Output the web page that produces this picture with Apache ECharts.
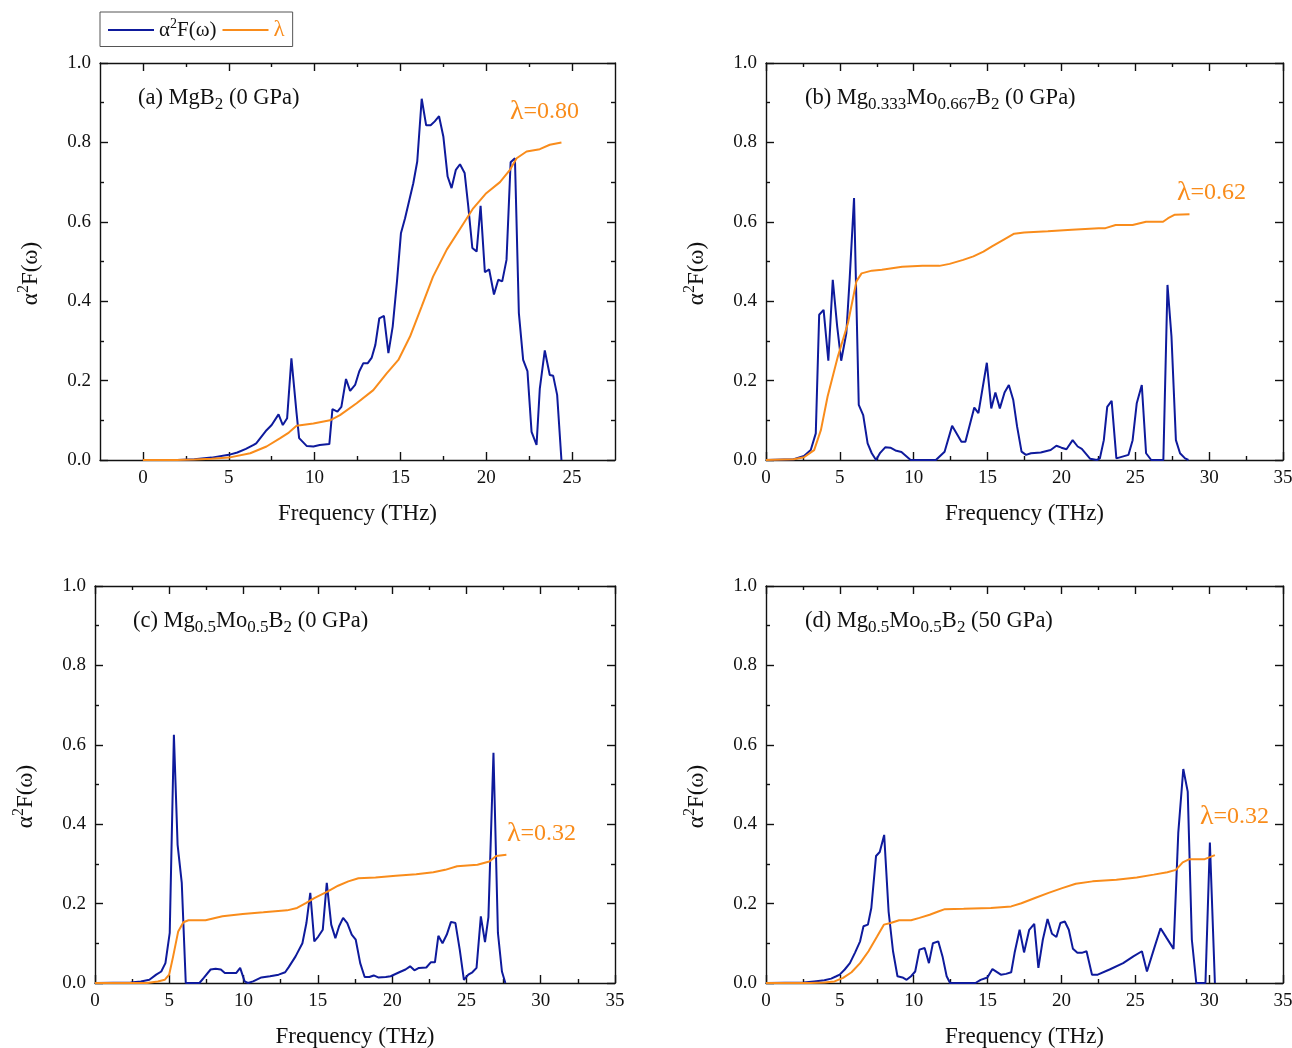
<!DOCTYPE html>
<html>
<head>
<meta charset="utf-8">
<title>Eliashberg spectral function</title>
<script src="https://cdn.jsdelivr.net/npm/echarts@6/dist/echarts.min.js"></script>
<style>
html, body { margin: 0; padding: 0; background: #fff; }
#main { width: 1292px; height: 1048px; }
</style>
</head>
<body>
<div id="main"></div>
<script>
// tick values
var xTicksA = [0, 5, 10, 15, 20, 25];
var xMinorA = [2.5, 7.5, 12.5, 17.5, 22.5];
var xTicks = [0, 5, 10, 15, 20, 25, 30, 35];
var xMinor = [2.5, 7.5, 12.5, 17.5, 22.5, 27.5, 32.5];
var yTicks = [0, 0.2, 0.4, 0.6, 0.8, 1.0];
var yMinor = [0.1, 0.3, 0.5, 0.7, 0.9];

// (a) MgB2, 0 GPa
var aFreq = [0, 2, 3, 4, 5, 5.5, 6, 6.45, 6.6, 7.2, 7.5, 7.9, 8.15, 8.4, 8.65, 8.95, 9.1, 9.55, 9.93, 10.3, 10.86, 11.04, 11.33, 11.56, 11.83, 12.07, 12.36, 12.6, 12.84, 13.1, 13.33, 13.54, 13.77, 14.04, 14.3, 14.55, 14.8, 15.03, 15.27, 15.52, 15.75, 15.98, 16.24, 16.5, 16.76, 17, 17.25, 17.5, 17.75, 17.98, 18.23, 18.47, 18.74, 18.95, 19.19, 19.44, 19.67, 19.92, 20.17, 20.45, 20.7, 20.93, 21.18, 21.42, 21.67, 21.9, 22.15, 22.4, 22.64, 22.93, 23.12, 23.41, 23.7, 23.9, 24.13, 24.38];
var aA2F = [0, 0, 0.002, 0.006, 0.013, 0.019, 0.028, 0.038, 0.042, 0.075, 0.088, 0.115, 0.088, 0.105, 0.256, 0.118, 0.055, 0.035, 0.034, 0.038, 0.04, 0.128, 0.122, 0.134, 0.204, 0.174, 0.189, 0.223, 0.244, 0.244, 0.258, 0.29, 0.357, 0.363, 0.269, 0.336, 0.45, 0.571, 0.609, 0.655, 0.697, 0.752, 0.91, 0.843, 0.843, 0.853, 0.866, 0.815, 0.714, 0.685, 0.731, 0.745, 0.723, 0.64, 0.534, 0.525, 0.64, 0.473, 0.48, 0.417, 0.454, 0.45, 0.504, 0.75, 0.76, 0.37, 0.252, 0.224, 0.071, 0.038, 0.18, 0.276, 0.214, 0.212, 0.164, 0];
var aLamFreq = [0, 2, 3, 4, 5, 6.25, 7.2, 8, 8.5, 8.95, 9.93, 10.9, 11.48, 12.45, 13.42, 14.2, 14.88, 15.56, 16.24, 16.9, 17.7, 18.47, 19.24, 20, 20.8, 21.38, 21.77, 22.35, 23.12, 23.7, 24.38];
var aLam = [0, 0, 0.001, 0.003, 0.006, 0.017, 0.034, 0.055, 0.069, 0.086, 0.092, 0.1, 0.113, 0.143, 0.176, 0.218, 0.252, 0.311, 0.387, 0.462, 0.53, 0.582, 0.634, 0.672, 0.7, 0.731, 0.76, 0.777, 0.783, 0.794, 0.8];

// (b) Mg0.333Mo0.667B2, 0 GPa
var bFreq = [0, 1.88, 2.57, 3.03, 3.37, 3.6, 3.9, 4.22, 4.52, 4.82, 5.09, 5.44, 5.67, 5.96, 6.28, 6.58, 6.88, 7.16, 7.45, 7.73, 8.07, 8.42, 8.76, 9.17, 9.79, 11.5, 12.09, 12.6, 13.23, 13.5, 14.1, 14.38, 14.95, 15.25, 15.53, 15.83, 16.15, 16.44, 16.74, 17, 17.3, 17.6, 17.94, 18.6, 19.27, 19.66, 20, 20.34, 20.76, 21.1, 21.38, 21.95, 22.4, 22.6, 22.87, 23.1, 23.4, 23.72, 24.54, 24.82, 25.1, 25.44, 25.73, 26.08, 26.9, 27.18, 27.45, 27.75, 28.03, 28.37, 28.6];
var bA2F = [0, 0.002, 0.01, 0.025, 0.067, 0.366, 0.378, 0.25, 0.454, 0.336, 0.25, 0.32, 0.46, 0.66, 0.139, 0.113, 0.042, 0.017, 0, 0.018, 0.032, 0.031, 0.024, 0.02, 0, 0, 0.021, 0.086, 0.046, 0.046, 0.132, 0.118, 0.245, 0.13, 0.17, 0.13, 0.17, 0.189, 0.151, 0.084, 0.021, 0.013, 0.017, 0.019, 0.025, 0.036, 0.031, 0.027, 0.05, 0.034, 0.028, 0.003, 0, 0.004, 0.05, 0.134, 0.149, 0.004, 0.013, 0.05, 0.143, 0.189, 0.017, 0, 0, 0.441, 0.311, 0.05, 0.017, 0.004, 0];
var bLamFreq = [0, 1.88, 2.57, 3.26, 3.72, 4.17, 4.86, 5.55, 6.12, 6.47, 7.16, 7.84, 9.22, 10.6, 11.74, 12.43, 13.35, 14.04, 14.72, 15.3, 16.1, 16.8, 17.48, 19.08, 20.7, 22.52, 22.98, 23.67, 24.82, 25.73, 26.88, 27.22, 27.68, 28.67];
var bLam = [0, 0.002, 0.007, 0.025, 0.076, 0.16, 0.26, 0.345, 0.45, 0.47, 0.477, 0.479, 0.487, 0.489, 0.489, 0.494, 0.504, 0.513, 0.525, 0.538, 0.555, 0.57, 0.573, 0.576, 0.58, 0.584, 0.584, 0.592, 0.592, 0.6, 0.6, 0.609, 0.618, 0.619];

// (c) Mg0.5Mo0.5B2, 0 GPa
var cFreq = [0, 2.4, 3.09, 3.66, 4.12, 4.46, 4.74, 5.03, 5.31, 5.56, 5.84, 6.11, 7.03, 7.32, 7.78, 8.12, 8.47, 8.74, 9.5, 9.77, 10.07, 10.3, 10.64, 11.2, 11.78, 12.36, 12.8, 13.04, 13.5, 13.96, 14.23, 14.49, 14.76, 15.03, 15.33, 15.6, 15.9, 16.18, 16.43, 16.7, 16.98, 17.28, 17.55, 17.85, 18.15, 18.47, 18.76, 19.06, 19.57, 19.9, 20.48, 20.9, 21.21, 21.5, 21.8, 22.3, 22.6, 22.88, 23.11, 23.39, 23.68, 23.96, 24.26, 24.55, 24.83, 25.13, 25.4, 25.68, 25.97, 26.25, 26.48, 26.82, 27.12, 27.39, 27.62];
var cA2F = [0, 0.001, 0.004, 0.008, 0.021, 0.029, 0.05, 0.126, 0.625, 0.348, 0.252, 0, 0, 0.013, 0.034, 0.036, 0.034, 0.025, 0.025, 0.038, 0.004, 0, 0.004, 0.014, 0.017, 0.021, 0.027, 0.04, 0.067, 0.1, 0.151, 0.227, 0.105, 0.117, 0.134, 0.252, 0.147, 0.113, 0.143, 0.164, 0.151, 0.122, 0.109, 0.05, 0.015, 0.015, 0.019, 0.014, 0.015, 0.017, 0.027, 0.034, 0.042, 0.032, 0.038, 0.039, 0.052, 0.052, 0.119, 0.1, 0.122, 0.154, 0.151, 0.084, 0.008, 0.021, 0.027, 0.038, 0.168, 0.103, 0.166, 0.58, 0.126, 0.029, 0];
var cLamFreq = [0, 3.5, 4.23, 4.69, 4.99, 5.26, 5.6, 5.95, 6.29, 7.44, 8.58, 9.95, 11.33, 12.93, 13.6, 14.19, 14.76, 15.67, 16.36, 17.05, 17.73, 18.88, 20.25, 21.62, 22.77, 23.57, 24.37, 25.74, 26.54, 27, 27.69];
var cLam = [0, 0, 0.004, 0.008, 0.021, 0.067, 0.13, 0.153, 0.158, 0.158, 0.168, 0.174, 0.178, 0.183, 0.189, 0.201, 0.214, 0.231, 0.245, 0.256, 0.264, 0.266, 0.27, 0.274, 0.279, 0.285, 0.294, 0.298, 0.306, 0.32, 0.323];

// (d) Mg0.5Mo0.5B2, 50 GPa
var dFreq = [0, 2.57, 3.26, 3.95, 4.41, 4.76, 4.99, 5.33, 5.68, 6.02, 6.37, 6.6, 6.9, 7.13, 7.45, 7.7, 8, 8.3, 8.6, 8.9, 9.24, 9.52, 9.82, 10.1, 10.39, 10.74, 11.03, 11.3, 11.66, 11.95, 12.23, 12.46, 14.18, 14.53, 14.99, 15.33, 15.9, 16.25, 16.6, 16.83, 17.17, 17.47, 17.82, 18.16, 18.44, 18.74, 19.06, 19.36, 19.66, 19.93, 20.23, 20.5, 20.78, 21.08, 21.38, 21.7, 22.07, 22.46, 23.26, 24.18, 24.87, 25.45, 25.79, 26.25, 26.71, 27.13, 27.59, 27.91, 28.25, 28.55, 28.83, 29.13, 29.75, 30.05, 30.39];
var dA2F = [0, 0.001, 0.004, 0.007, 0.011, 0.017, 0.021, 0.034, 0.05, 0.076, 0.105, 0.143, 0.147, 0.189, 0.32, 0.33, 0.373, 0.18, 0.08, 0.017, 0.014, 0.008, 0.017, 0.029, 0.084, 0.088, 0.05, 0.1, 0.105, 0.067, 0.017, 0, 0, 0.008, 0.014, 0.035, 0.021, 0.023, 0.027, 0.076, 0.134, 0.077, 0.134, 0.149, 0.038, 0.109, 0.161, 0.124, 0.116, 0.151, 0.155, 0.134, 0.086, 0.076, 0.076, 0.08, 0.021, 0.021, 0.034, 0.05, 0.067, 0.08, 0.029, 0.084, 0.138, 0.113, 0.086, 0.378, 0.539, 0.482, 0.109, 0, 0, 0.354, 0];
var dLamFreq = [0, 3, 3.95, 4.64, 5.22, 5.79, 6.37, 6.94, 7.52, 7.98, 8.44, 9.01, 9.82, 10.39, 11.08, 11.66, 12.11, 13.38, 15.22, 16.6, 17.29, 18.21, 19.13, 20.05, 20.97, 22.11, 23.72, 25.1, 26.25, 27.17, 27.75, 28.21, 28.67, 29.7, 30.05, 30.39];
var dLam = [0, 0, 0.001, 0.004, 0.013, 0.027, 0.05, 0.08, 0.117, 0.147, 0.151, 0.158, 0.158, 0.164, 0.172, 0.18, 0.186, 0.187, 0.189, 0.193, 0.201, 0.214, 0.227, 0.239, 0.25, 0.256, 0.26, 0.266, 0.273, 0.279, 0.285, 0.304, 0.312, 0.312, 0.317, 0.322];

var FONT = '"Liberation Serif", "Times New Roman", serif';
var INK = '#111';
var BLUE = '#0e1a9c';
var ORANGE = '#f98c1b';
var A2F = 'α²F(ω)';
var LAM = 'λ';

var panels = [
	{grid: {left: 100, right: 677, top: 63, bottom: 588}, xMin: -2.5, xMax: 27.5, xMajor: xTicksA, xMin2: xMinorA,
		freq: aFreq, a2f: aA2F, lamFreq: aLamFreq, lam: aLam,
		title: '{n|(a) MgB}{s|2}{n| (0 GPa)}', titleAt: [138, 83], lamText: '0.80', lamAt: [510, 97]},
	{grid: {left: 766, right: 9, top: 63, bottom: 588}, xMin: 0, xMax: 35, xMajor: xTicks, xMin2: xMinor,
		freq: bFreq, a2f: bA2F, lamFreq: bLamFreq, lam: bLam,
		title: '{n|(b) Mg}{s|0.333}{n|Mo}{s|0.667}{n|B}{s|2}{n| (0 GPa)}', titleAt: [805, 83], lamText: '0.62', lamAt: [1177, 178]},
	{grid: {left: 95, right: 677, top: 586, bottom: 65}, xMin: 0, xMax: 35, xMajor: xTicks, xMin2: xMinor,
		freq: cFreq, a2f: cA2F, lamFreq: cLamFreq, lam: cLam,
		title: '{n|(c) Mg}{s|0.5}{n|Mo}{s|0.5}{n|B}{s|2}{n| (0 GPa)}', titleAt: [133, 606], lamText: '0.32', lamAt: [507, 819]},
	{grid: {left: 766, right: 9, top: 586, bottom: 65}, xMin: 0, xMax: 35, xMajor: xTicks, xMin2: xMinor,
		freq: dFreq, a2f: dA2F, lamFreq: dLamFreq, lam: dLam,
		title: '{n|(d) Mg}{s|0.5}{n|Mo}{s|0.5}{n|B}{s|2}{n| (50 GPa)}', titleAt: [805, 606], lamText: '0.32', lamAt: [1200, 802]}
];

function zip(xs, ys) {
	var out = [];
	for (var k = 0; k < Math.min(xs.length, ys.length); k++) out.push([xs[k], ys[k]]);
	return out;
}

var axisLine = {color: INK, width: 1.4};

// one axis = one side of the frame, with ticks at the given values
function sideAxis(gi, pos, min, max, values, len, withLine) {
	return {
		type: 'value', gridIndex: gi, position: pos, min: min, max: max,
		splitLine: {show: false},
		axisLine: {show: withLine, onZero: false, lineStyle: axisLine},
		axisTick: {show: true, inside: true, length: len, customValues: values, lineStyle: axisLine},
		axisLabel: {show: false},
		minorTick: {show: false}
	};
}

var grids = [], xAxes = [], yAxes = [], series = [], titles = [];
var textRich = {
	n: {fontFamily: FONT, fontSize: 22.5, color: INK, lineHeight: 30},
	s: {fontFamily: FONT, fontSize: 17, color: INK, lineHeight: 15, verticalAlign: 'bottom'}
};
var nameRich = {
	n: {fontFamily: FONT, fontSize: 23, color: INK, lineHeight: 30},
	sup: {fontFamily: FONT, fontSize: 16, color: INK, lineHeight: 14, verticalAlign: 'top'}
};
var lamRich = {
	l: {fontFamily: FONT, fontSize: 28, color: ORANGE, lineHeight: 30},
	e: {fontFamily: FONT, fontSize: 24, color: ORANGE, lineHeight: 30}
};

panels.forEach(function (p, i) {
	grids.push(Object.assign({containLabel: false, outerBoundsMode: 'none'}, p.grid));

	// bottom: line, major ticks + labels
	var xMain = sideAxis(i, 'bottom', p.xMin, p.xMax, p.xMajor, 8, true);
	xMain.axisLabel = {show: true, customValues: p.xMajor, margin: 9, color: INK, fontFamily: FONT, fontSize: 19};
	xMain.name = 'Frequency (THz)';
	xMain.nameLocation = 'middle';
	xMain.nameGap = 42;
	xMain.nameMoveOverlap = false;
	xMain.nameTextStyle = {color: INK, fontFamily: FONT, fontSize: 23};
	xAxes.push(xMain);
	xAxes.push(sideAxis(i, 'bottom', p.xMin, p.xMax, p.xMin2, 4, false));
	xAxes.push(sideAxis(i, 'top', p.xMin, p.xMax, p.xMajor, 8, true));
	xAxes.push(sideAxis(i, 'top', p.xMin, p.xMax, p.xMin2, 4, false));

	var yMain = sideAxis(i, 'left', 0, 1, yTicks, 8, true);
	yMain.axisLabel = {show: true, customValues: yTicks, margin: 9, color: INK, fontFamily: FONT, fontSize: 19,
		formatter: function (v) { return v.toFixed(1); }};
	yMain.name = '{n|α}{sup|2}{n|F(ω)}';
	yMain.nameLocation = 'middle';
	yMain.nameGap = 54;
	yMain.nameMoveOverlap = false;
	yMain.nameTextStyle = {color: INK, fontFamily: FONT, fontSize: 23, rich: nameRich, padding: [0, 24, 0, 0]};
	yAxes.push(yMain);
	yAxes.push(sideAxis(i, 'left', 0, 1, yMinor, 4, false));
	yAxes.push(sideAxis(i, 'right', 0, 1, yTicks, 8, true));
	yAxes.push(sideAxis(i, 'right', 0, 1, yMinor, 4, false));

	series.push({
		name: A2F, type: 'line', xAxisIndex: i * 4, yAxisIndex: i * 4,
		data: zip(p.freq, p.a2f), symbol: 'none', silent: true, z: 3,
		lineStyle: {color: BLUE, width: 2}, itemStyle: {color: BLUE}
	});
	series.push({
		name: LAM, type: 'line', xAxisIndex: i * 4, yAxisIndex: i * 4,
		data: zip(p.lamFreq, p.lam), symbol: 'none', silent: true, z: 4,
		lineStyle: {color: ORANGE, width: 2}, itemStyle: {color: ORANGE}
	});

	titles.push({
		text: p.title, left: p.titleAt[0], top: p.titleAt[1], padding: 0,
		textStyle: {fontFamily: FONT, fontSize: 22.5, fontWeight: 'normal', color: INK, lineHeight: 30, rich: textRich}
	});
	titles.push({
		text: '{l|λ}{e|=' + p.lamText + '}', left: p.lamAt[0], top: p.lamAt[1], padding: 0,
		textStyle: {fontFamily: FONT, fontSize: 24, fontWeight: 'normal', color: ORANGE, lineHeight: 30, rich: lamRich}
	});
});

var chart = echarts.init(document.getElementById('main'), null, {renderer: 'canvas'});
chart.setOption({
	backgroundColor: '#fff',
	animation: false,
	title: titles,
	legend: {
		left: 100, top: 12, orient: 'horizontal', selectedMode: false,
		padding: [5, 8, 5, 8], itemGap: 6, itemWidth: 46, itemHeight: 2, icon: 'rect',
		borderColor: '#555', borderWidth: 1, borderRadius: 0,
		data: [
			{name: A2F, icon: 'rect', itemStyle: {color: BLUE}},
			{name: LAM, icon: 'rect', itemStyle: {color: ORANGE}, textStyle: {color: ORANGE}}
		],
		formatter: function (name) {
			return name === A2F ? '{n|α}{sup|2}{n|F(ω)}' : '{l|λ}';
		},
		textStyle: {
			fontFamily: FONT, fontSize: 21, color: INK,
			rich: {
				n: {fontFamily: FONT, fontSize: 21, color: INK, lineHeight: 26},
				sup: {fontFamily: FONT, fontSize: 14, color: INK, lineHeight: 12, verticalAlign: 'top'},
				l: {fontFamily: FONT, fontSize: 23, color: ORANGE, lineHeight: 26}
			}
		}
	},
	grid: grids,
	xAxis: xAxes,
	yAxis: yAxes,
	series: series
});
</script>
</body>
</html>
